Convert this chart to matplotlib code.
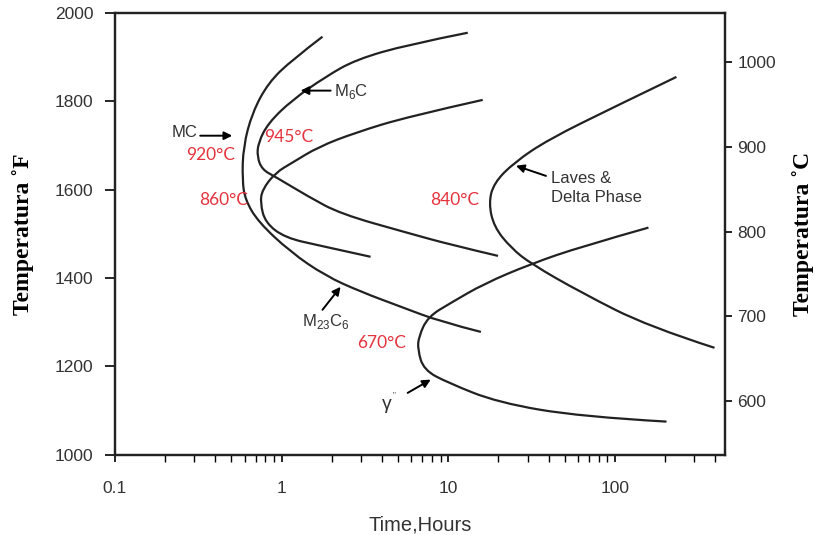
import matplotlib
matplotlib.use('Agg')
import matplotlib.pyplot as plt
from matplotlib.path import Path
from matplotlib.patches import PathPatch

plt.rcParams['font.family'] = ['Liberation Sans', 'DejaVu Sans']
plt.rcParams['mathtext.fontset'] = 'custom'
plt.rcParams['mathtext.rm'] = 'Liberation Sans'

# TTT curves, time in hours / temperature in F
mc_time = [1.76, 1.16, 0.833, 0.667, 0.589, 0.581, 0.605, 0.724, 1.13, 1.83, 2.98, 5.19, 9.02, 15.7]
mc_temp = [1946, 1894, 1842, 1774, 1697, 1622, 1577, 1527, 1459, 1405, 1369, 1335, 1301, 1278]

m6c_time = [13.1, 5.71, 2.78, 1.83, 1.16, 0.833, 0.724, 0.714, 0.766, 0.918, 1.45, 2.26, 5.71, 10.4, 19.9]
m6c_temp = [1955, 1928, 1894, 1855, 1803, 1751, 1706, 1674, 1645, 1629, 1584, 1545, 1502, 1475, 1450]

m23c6_time = [16.1, 5.71, 2.78, 1.67, 1.16, 0.918, 0.766, 0.745, 0.799, 1.05, 1.71, 3.42]
m23c6_temp = [1803, 1765, 1729, 1697, 1661, 1638, 1600, 1570, 1525, 1491, 1473, 1448]

laves_time = [234, 99, 39.7, 24.8, 18.8, 17.5, 18.8, 23.8, 31.4, 62.8, 159, 396]
laves_temp = [1855, 1787, 1713, 1661, 1615, 1570, 1516, 1468, 1432, 1367, 1290, 1242]

gamma_time = [159, 62.8, 31.4, 16.4, 10.4, 7.54, 6.65, 6.56, 7.13, 9.95, 19.9, 62.8, 204]
gamma_temp = [1514, 1471, 1432, 1387, 1344, 1312, 1267, 1238, 1192, 1163, 1118, 1086, 1075]

f_ticks = [1000, 1200, 1400, 1600, 1800, 2000]
c_ticks = [600, 700, 800, 900, 1000]
x_ticks = [0.1, 1, 10, 100]
x_ticklabels = ['0.1', '1', '10', '100']

# red nose temperatures: (label, time, temp F)
nose_labels = ['920°C', '945°C', '860°C', '840°C', '670°C']
nose_time = [0.373, 1.10, 0.447, 11.0, 3.98]
nose_temp = [1679, 1720, 1577, 1577, 1254]

TXT = '#333333'
RED = '#e5333d'


def smooth_curve(ax, t, T):
    # quadratic bezier through the read points (midpoints on curve)
    pts = list(zip(t, T))
    verts = [pts[0]]
    codes = [Path.MOVETO]
    n = len(pts)
    for i in range(1, n - 1):
        if i == n - 2:
            end = pts[-1]
        else:
            end = ((pts[i][0] * pts[i + 1][0]) ** 0.5, (pts[i][1] + pts[i + 1][1]) / 2)
        verts += [pts[i], end]
        codes += [Path.CURVE3, Path.CURVE3]
    patch = PathPatch(Path(verts, codes), facecolor='none', edgecolor='#222222',
                      lw=1.6, capstyle='butt', joinstyle='round')
    ax.add_patch(patch)


fig = plt.figure(figsize=(8.15, 5.35), dpi=100)
ax = fig.add_axes([0.141, 0.150, 0.749, 0.826])

for t, T in [(mc_time, mc_temp), (m6c_time, m6c_temp), (m23c6_time, m23c6_temp),
             (laves_time, laves_temp), (gamma_time, gamma_temp)]:
    smooth_curve(ax, t, T)

ax.set_xscale('log')
ax.set_xlim(0.1, 460)
ax.set_ylim(1000, 2000)
ax.set_yticks(f_ticks)
ax.set_xticks(x_ticks)
ax.set_xticklabels(x_ticklabels)
ax.tick_params(axis='y', direction='out', length=7, width=1.2, pad=8.5,
               labelsize=12.5, labelcolor=TXT)
ax.tick_params(axis='x', which='major', direction='out', length=5, width=1.2, pad=14,
               labelsize=12.5, labelcolor=TXT)
ax.tick_params(axis='x', which='minor', direction='out', length=5, width=1.0)
for s in ax.spines.values():
    s.set_linewidth(1.6)
    s.set_color('#222222')

ax2 = ax.twinx()
ax2.set_ylim(537, 1058)
ax2.set_yticks(c_ticks)
ax2.tick_params(axis='y', direction='out', length=5, width=1.2, pad=3.5,
                labelsize=12.5, labelcolor=TXT)
for s in ax2.spines.values():
    s.set_linewidth(1.6)
    s.set_color('#222222')

ax.set_ylabel('Temperatura ˚F', family='Liberation Serif', fontweight='bold',
              fontsize=17, labelpad=15)
ax2.set_ylabel('Temperatura ˚C', family='Liberation Serif', fontweight='bold',
               fontsize=17, labelpad=12)
ax.set_xlabel('Time,Hours', fontsize=14.5, color=TXT, labelpad=14)

for lab, t, T in zip(nose_labels, nose_time, nose_temp):
    ax.text(t, T, lab, color=RED, fontsize=12.5, family='Lato', ha='center', va='center')

# phase labels with arrows
arrow = dict(arrowstyle='-|>', color='black', lw=1.4, mutation_scale=12,
             shrinkA=0, shrinkB=0)
ax.annotate('', xy=(0.506, 1722), xytext=(0.325, 1722), arrowprops=arrow)
ax.annotate('', xy=(1.30, 1824), xytext=(1.97, 1824), arrowprops=arrow)
ax.annotate('', xy=(2.26, 1380), xytext=(1.76, 1328), arrowprops=arrow)
ax.annotate('', xy=(25.5, 1654), xytext=(38.6, 1631), arrowprops=arrow)
ax.annotate('', xy=(7.85, 1170), xytext=(5.71, 1140), arrowprops=arrow)

ax.text(0.311, 1729, 'MC', fontsize=12, color=TXT, ha='right', va='center')
ax.text(2.05, 1821, r'M$_\mathregular{6}$C', fontsize=12, color=TXT, ha='left', va='center')
ax.text(1.33, 1301, r'M$_\mathregular{23}$C$_\mathregular{6}$', fontsize=12, color=TXT,
        ha='left', va='center')
ax.text(41.4, 1604, 'Laves &\nDelta Phase', fontsize=12, color=TXT, ha='left',
        va='center', linespacing=1.3)
ax.text(4.27, 1113, 'γ', fontsize=14, color=TXT, ha='center', va='center')
ax.text(4.75, 1135, '"', fontsize=6, color=TXT, ha='center', va='center')

fig.savefig('out.png', dpi=100)
